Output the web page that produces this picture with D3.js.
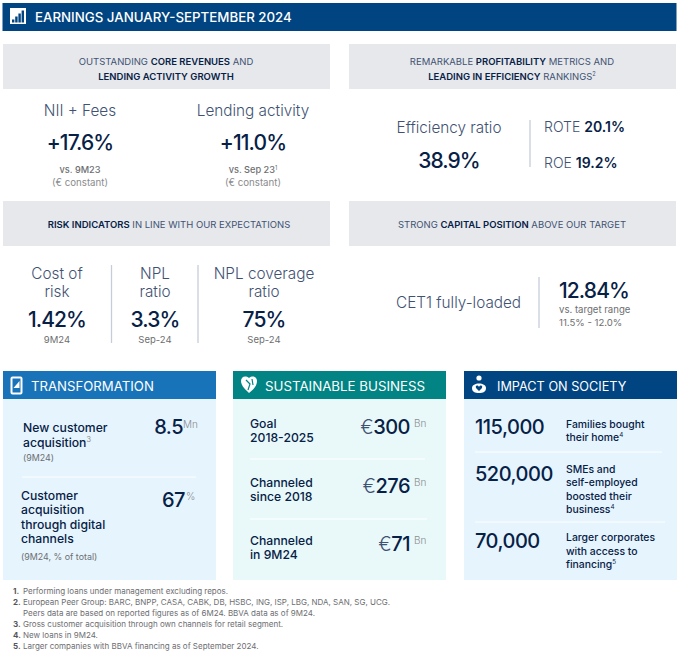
<!DOCTYPE html>
<html>
<head>
<meta charset="utf-8">
<script src="https://cdn.jsdelivr.net/npm/d3@7"></script>
<style>
  html, body { margin: 0; padding: 0; background: #fff; }
  svg { display: block; }
  text { font-family: Inter, "Open Sans", sans-serif; }
</style>
</head>
<body>
<div id="chart"></div>
<script>
// *word* is bold, ^x is a superscript
var title = "EARNINGS JANUARY-SEPTEMBER 2024";

var bannerTexts = [
  ["OUTSTANDING *CORE REVENUES* AND", "*LENDING ACTIVITY GROWTH*"],
  ["REMARKABLE *PROFITABILITY* METRICS AND", "*LEADING IN EFFICIENCY* RANKINGS^2"],
  ["*RISK INDICATORS* IN LINE WITH OUR EXPECTATIONS"],
  ["STRONG *CAPITAL POSITION* ABOVE OUR TARGET"]
];

var growthLabels = ["NII + Fees", "Lending activity"];
var growthValues = ["+17.6%", "+11.0%"];
var growthNotes = [["vs. 9M23", "(€ constant)"], ["vs. Sep 23^1", "(€ constant)"]];

var efficiencyLabel = "Efficiency ratio";
var efficiencyValue = "38.9%";
var returnMetrics = ["ROTE *20.1%*", "ROE *19.2%*"];

var riskLabels = [["Cost of", "risk"], ["NPL", "ratio"], ["NPL coverage", "ratio"]];
var riskValues = ["1.42%", "3.3%", "75%"];
var riskDates = ["9M24", "Sep-24", "Sep-24"];

var capitalLabel = "CET1 fully-loaded";
var capitalValue = "12.84%";
var capitalNotes = ["vs. target range", "11.5% - 12.0%"];

var cardTitles = ["TRANSFORMATION", "SUSTAINABLE BUSINESS", "IMPACT ON SOCIETY"];

var transformLabels = [["New customer", "acquisition^3"], ["Customer", "acquisition", "through digital", "channels"]];
var transformNotes = ["(9M24)", "(9M24, % of total)"];
var transformValues = ["8.5", "67"];
var transformUnits = ["Mn", "%"];

var sustainLabels = [["Goal", "2018-2025"], ["Channeled", "since 2018"], ["Channeled", "in 9M24"]];
var sustainValues = [300, 276, 71];

var societyValues = [115000, 520000, 70000];
var societyLabels = [
  ["Families bought", "their home^4"],
  ["SMEs and", "self-employed", "boosted their", "business^4"],
  ["Larger corporates", "with access to", "financing^5"]
];

var footnotes = [
  ["1.", "Performing loans under management excluding repos."],
  ["2.", "European Peer Group: BARC, BNPP, CASA, CABK, DB, HSBC, ING, ISP, LBG, NDA, SAN, SG, UCG."],
  ["", "Peers data are based on reported figures as of 6M24. BBVA data as of 9M24."],
  ["3.", "Gross customer acquisition through own channels for retail segment."],
  ["4.", "New loans in 9M24."],
  ["5.", "Larger companies with BBVA financing as of September 2024."]
];

var navy = "#072146", slate = "#3f5273", grey = "#6d6e71";
var lightGrey = "#8a8c8e", rule = "#c6ccd8";

var svg = d3.select("#chart").append("svg").attr("width", 679).attr("height", 654);

// Splits the markup into runs and writes them as tspans.
var put = function(parent, x, y, str, o) {
  o = o || {};
  var t = parent.append("text")
    .attr("x", x).attr("y", y)
    .attr("text-anchor", o.anchor || "start")
    .attr("font-size", o.size || 10)
    .attr("font-weight", o.weight || 400)
    .attr("letter-spacing", o.spacing || 0)
    .attr("fill", o.fill || navy);
  var bold = false;
  str.split(/(\*|\^.)/).forEach(function(part) {
    if (part === "") return;
    if (part === "*") { bold = !bold; return; }
    if (part[0] === "^") {
      t.append("tspan").attr("font-size", (o.size || 10) * 0.6).attr("dy", -(o.size || 10) * 0.38)
        .attr("font-weight", 400).attr("fill", o.supFill || o.fill || navy).text(part[1]);
      return;
    }
    var s = t.append("tspan").text(part);
    if (bold) s.attr("font-weight", o.boldWeight || 600).attr("fill", o.boldFill || navy);
  });
  return t;
};

var stack = function(parent, x, y, step, lines, o) {
  lines.forEach(function(line, i) { put(parent, x, y + i * step, line, o); });
};

var vrule = function(x, y1, y2) {
  svg.append("line").attr("x1", x).attr("x2", x).attr("y1", y1).attr("y2", y2)
    .attr("stroke", rule).attr("stroke-width", 1.3);
};

var hrule = function(x1, x2, y) {
  svg.append("line").attr("x1", x1).attr("x2", x2).attr("y1", y).attr("y2", y)
    .attr("stroke", "#fff").attr("stroke-width", 1);
};

// page header
svg.append("rect").attr("x", 2.5).attr("y", 3).attr("width", 674).attr("height", 28).attr("fill", "#004481");
svg.append("rect").attr("x", 10).attr("y", 8).attr("width", 16).attr("height", 16).attr("fill", "#fff");
svg.selectAll("rect.bar").data([3, 6, 9, 12]).enter().append("rect").attr("class", "bar")
  .attr("x", function(d, i) { return 12 + i * 3.2; })
  .attr("y", function(d) { return 22.5 - d; })
  .attr("width", 2.4)
  .attr("height", function(d) { return d; })
  .attr("fill", "#004481");
put(svg, 35, 22, title, { size: 13.3, weight: 500, fill: "#fff" });

// grey banners
var bannerBoxes = [[3, 44], [349, 44], [3, 201], [349, 201]];
svg.selectAll("rect.banner").data(bannerBoxes).enter().append("rect").attr("class", "banner")
  .attr("x", function(d) { return d[0]; })
  .attr("y", function(d) { return d[1]; })
  .attr("width", 327).attr("height", 45).attr("fill", "#e6e8ec");
var bannerStyle = { anchor: "middle", size: 9.5, fill: slate, supFill: slate };
stack(svg, 166, 65, 14.5, bannerTexts[0], bannerStyle);
stack(svg, 512, 65, 14.5, bannerTexts[1], bannerStyle);
stack(svg, 169, 227.5, 0, bannerTexts[2], bannerStyle);
stack(svg, 512, 227.5, 0, bannerTexts[3], bannerStyle);

// revenue growth
var labelStyle = { anchor: "middle", size: 15.3, weight: 300, fill: slate };
var valueStyle = { anchor: "middle", size: 21, weight: 500, spacing: -0.9 };
var noteStyle = { anchor: "middle", size: 9.2, fill: grey, weight: 500, supFill: grey };
var noteLight = { anchor: "middle", size: 9.7, fill: lightGrey };
[80, 253].forEach(function(x, i) {
  put(svg, x, 116, growthLabels[i], labelStyle);
  put(svg, x, 150, growthValues[i], valueStyle);
  put(svg, x, 173, growthNotes[i][0], noteStyle);
  put(svg, x, 186, growthNotes[i][1], noteLight);
});

// efficiency
put(svg, 449, 133, efficiencyLabel, labelStyle);
put(svg, 449, 168, efficiencyValue, valueStyle);
vrule(530, 120, 167);
put(svg, 544, 132, returnMetrics[0], { size: 14, weight: 300, fill: slate, boldWeight: 600 });
put(svg, 544, 168, returnMetrics[1], { size: 14, weight: 300, fill: slate, boldWeight: 600 });

// risk
[57, 155, 264].forEach(function(x, i) {
  stack(svg, x, 279, 18, riskLabels[i], labelStyle);
  put(svg, x, 327, riskValues[i], valueStyle);
  put(svg, x, 343, riskDates[i], { anchor: "middle", size: 9.5, fill: grey });
});
vrule(111.5, 265, 343);
vrule(198, 265, 343);

// capital
put(svg, 396, 308, capitalLabel, { size: 15.3, weight: 300, fill: slate });
vrule(539, 277, 328);
put(svg, 559, 298, capitalValue, { size: 21, weight: 500, spacing: -0.9 });
stack(svg, 559, 313, 13, capitalNotes, { size: 9.6, fill: grey });

// the three cards
var cardX = [3, 233, 464];
var cardHead = ["#1973b8", "#028484", "#004481"];
var cardBody = ["#e6f4fd", "#e9f9fa", "#e6f4fd"];
var cardTextX = [31, 265, 497];
var cardTitleSize = [13.2, 13.3, 12.7];
svg.selectAll("g.card").data(cardTitles).enter().append("g").attr("class", "card")
  .each(function(d, i) {
    var g = d3.select(this);
    g.append("rect").attr("x", cardX[i]).attr("y", 399).attr("width", 213).attr("height", 181).attr("fill", cardBody[i]);
    g.append("rect").attr("x", cardX[i]).attr("y", 371).attr("width", 213).attr("height", 28).attr("fill", cardHead[i]);
    put(g, cardTextX[i], 390.5, d, { size: cardTitleSize[i], weight: 400, fill: "#fff" });
  });

// card icons
svg.append("rect").attr("x", 11.5).attr("y", 377.5).attr("width", 10).attr("height", 16).attr("rx", 1)
  .attr("fill", "none").attr("stroke", "#fff").attr("stroke-width", 2);
svg.append("path").attr("d", d3.line()([[13.5, 388], [19.5, 381], [19.5, 388]])).attr("fill", "#fff");
svg.append("path")
  .attr("d", "M249,378C245,375 241,377 241,381C241,386 246,390 249,393C253,390 257,386 257,381C257,377 253,375 249,378Z")
  .attr("fill", "#fff");
svg.append("path").attr("d", "M246,380L250,384L248,390M252,379L253,385").attr("fill", "none")
  .attr("stroke", "#028484").attr("stroke-width", 1.2);
svg.append("circle").attr("cx", 479).attr("cy", 378).attr("r", 2.6).attr("fill", "#fff");
svg.append("path")
  .attr("d", "M472,388C472,382 486,382 486,388C486,392 483,393 479,393C475,393 472,392 472,388Z")
  .attr("fill", "#fff");
svg.append("path").attr("d", "M479,391L476,388C475,385 478,385 479,387C480,385 483,385 482,388Z").attr("fill", "#004481");

// transformation card
var cardLabel = { size: 12.2, weight: 500 };
var cardNote = { size: 8.9, fill: grey };
var bigValue = { anchor: "end", size: 20, weight: 500, spacing: -0.5 };
var unitStyle = { size: 10, fill: lightGrey, weight: 300 };
stack(svg, 23, 432, 14.5, transformLabels[0], Object.assign({ supFill: lightGrey }, cardLabel));
put(svg, 23, 461, transformNotes[0], cardNote);
put(svg, 183, 434, transformValues[0], bigValue);
put(svg, 183, 428, transformUnits[0], unitStyle);
hrule(22, 196, 477);
stack(svg, 21, 500, 14.4, transformLabels[1], cardLabel);
put(svg, 21, 560, transformNotes[1], cardNote);
put(svg, 185, 507, transformValues[1], bigValue);
put(svg, 186, 500, transformUnits[1], unitStyle);

// sustainable business card
[428, 487, 545].forEach(function(y, i) {
  stack(svg, 250, y, 14.4, sustainLabels[i], cardLabel);
  var t = put(svg, 410, y + 6, "", bigValue);
  t.append("tspan").attr("font-weight", 300).attr("fill", slate).text("€");
  t.append("tspan").text(sustainValues[i]);
  put(svg, 414, y - 1, "Bn", unitStyle);
});
hrule(250, 425, 459);
hrule(250, 427, 519);

// society card
var societyFormat = d3.format(",");
[434, 481, 548].forEach(function(y, i) {
  put(svg, 475, y, societyFormat(societyValues[i]), { size: 20, weight: 500, spacing: -0.5 });
});
var societyText = { size: 10.4, weight: 500, supFill: navy };
stack(svg, 566, 428, 13, societyLabels[0], societyText);
stack(svg, 566, 473, 13.3, societyLabels[1], societyText);
stack(svg, 566, 541, 13.5, societyLabels[2], societyText);
hrule(475, 662, 452);
hrule(475, 665, 522);

// footnotes
var footY = d3.scalePoint().domain(d3.range(footnotes.length)).range([594, 649]);
footnotes.forEach(function(row, i) {
  put(svg, 13, footY(i), row[0], { size: 8, weight: 700, fill: "#555" });
  put(svg, 23, footY(i), row[1], { size: 8, fill: "#6d6e71" });
});
</script>
</body>
</html>
